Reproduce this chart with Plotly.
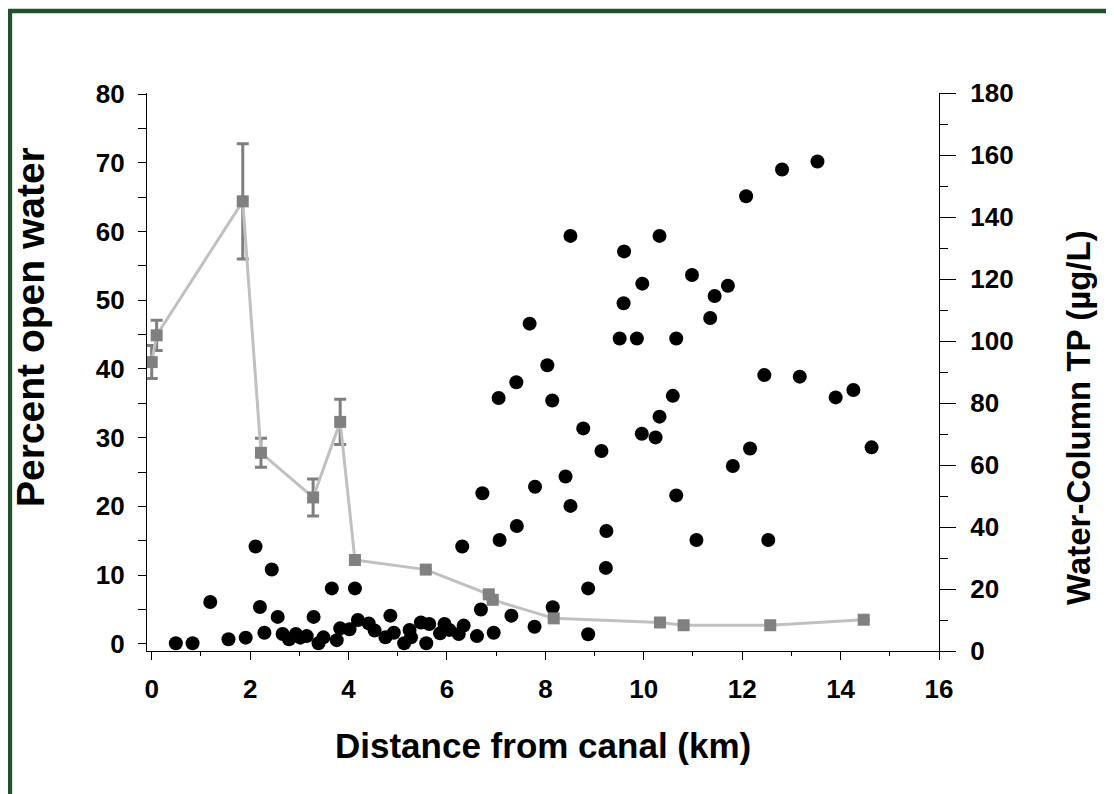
import plotly.graph_objects as go

# Percent open water (left axis), mean +/- error
open_x = [0.0, 0.10, 1.85, 2.22, 3.28, 3.83, 4.13, 5.57, 6.85, 6.93, 8.17, 10.33, 10.81, 12.57, 14.47]
open_y = [41.0, 44.9, 64.4, 27.8, 21.3, 32.3, 12.2, 10.8, 7.2, 6.4, 3.7, 3.1, 2.7, 2.7, 3.5]
open_err = [2.4, 2.2, 8.4, 2.1, 2.7, 3.3, None, None, None, None, None, None, None, None, None]

# Water-column TP (right axis)
tp_x = [0.49, 0.83, 1.19, 1.56, 1.91, 2.11, 2.20, 2.29, 2.44, 2.56, 2.66, 2.79, 2.93, 3.02, 3.15,
        3.29, 3.39, 3.49, 3.66, 3.76, 3.83, 4.02, 4.13, 4.19, 4.41, 4.53, 4.75, 4.85, 4.92, 5.13,
        5.24, 5.27, 5.47, 5.64, 5.58, 5.86, 5.95, 6.05, 6.24, 6.34, 6.31, 6.61, 6.69, 6.95, 7.07,
        7.31, 7.42, 7.78, 8.15,
        8.51, 9.60, 10.32, 9.97, 9.59, 7.68, 9.51, 9.86, 10.66, 8.04, 7.41, 7.05, 8.14, 10.59,
        10.32, 8.77, 9.96, 10.24, 9.14, 10.66, 6.72, 7.79, 8.41, 8.51, 9.24, 9.23, 8.87, 8.87,
        13.53, 12.81, 12.08, 10.98, 11.71, 11.44, 11.35, 12.45, 13.17, 14.26, 13.90, 12.16,
        11.81, 14.63, 11.07, 12.53]
tp_y = [2.5, 2.5, 15.8, 3.8, 4.3, 33.7, 14.2, 5.9, 26.3, 11.0, 5.5, 3.8, 5.5, 4.3, 4.8,
        11.0, 2.5, 4.4, 20.2, 3.5, 7.3, 7.0, 20.2, 10.0, 8.9, 6.6, 4.4, 11.4, 5.9, 2.5,
        6.8, 4.4, 9.2, 8.7, 2.5, 5.7, 8.7, 6.8, 5.5, 8.2, 33.7, 4.8, 13.4, 5.9, 35.8,
        11.4, 40.3, 7.8, 14.1,
        133.9, 128.9, 133.9, 118.5, 112.2, 105.6, 100.8, 100.8, 100.8, 92.2, 86.7, 81.6, 80.8, 82.3,
        75.6, 71.8, 70.1, 68.9, 64.5, 50.2, 50.9, 53.0, 56.3, 46.8, 38.7, 26.8, 20.2, 5.4,
        157.9, 155.3, 146.7, 121.3, 117.8, 114.5, 107.4, 89.0, 88.5, 84.2, 81.8, 65.3,
        59.7, 65.7, 35.8, 35.8]

x_title = "Distance from canal (km)"
y_left_title = "Percent open water"
y_right_title = "Water-Column TP (µg/L)"

FONT = "Liberation Sans, Arial, sans-serif"

fig = go.Figure()

fig.add_trace(go.Scatter(
    x=tp_x, y=tp_y, mode="markers", yaxis="y",
    marker=dict(symbol="circle", size=14, color="black"),
    showlegend=False, hoverinfo="x+y"))

fig.add_trace(go.Scatter(
    x=open_x, y=open_y, mode="lines+markers", yaxis="y2",
    line=dict(color="#c0c0c0", width=3),
    marker=dict(symbol="square", size=12, color="#808080"),
    error_y=dict(type="data", array=open_err, visible=True, color="#7f7f7f",
                 thickness=3, width=6),
    showlegend=False, hoverinfo="x+y"))

OFF = 8  # page offset of the figure in the screenshot
W, H = 1114, 794
L, T = 147 - OFF, 93 - OFF
R = W - (939 - OFF)
B = H - (651 - OFF)
pw, ph = W - L - R, H - T - B

def px_x(p):
    return (p - OFF - L) / pw

def px_y(p):
    return (H - B - (p - OFF)) / ph

tickfont = dict(family=FONT, size=26, color="black", weight="bold")

fig.update_layout(
    width=W, height=H,
    margin=dict(l=L, r=R, t=T, b=B, autoexpand=False),
    paper_bgcolor="white", plot_bgcolor="white",
    xaxis=dict(range=[-0.096, 16.0], showgrid=False, zeroline=False,
               showline=True, linecolor="black", linewidth=1.3,
               ticks="outside", ticklen=8, tickwidth=1.3, tickcolor="black",
               dtick=2, tick0=0, tickfont=tickfont, ticklabelstandoff=7,
               minor=dict(dtick=1, tick0=0, ticks="outside", ticklen=4,
                          tickwidth=1.3, tickcolor="black")),
    yaxis=dict(range=[0, 180], side="right", showgrid=False, zeroline=False,
               showline=True, linecolor="black", linewidth=1.3,
               ticks="outside", ticklen=16, tickwidth=1.3, tickcolor="black",
               dtick=20, tick0=0, tickfont=tickfont, ticklabelstandoff=9,
               minor=dict(dtick=10, tick0=0, ticks="outside", ticklen=8,
                          tickwidth=1.3, tickcolor="black")),
    yaxis2=dict(range=[-1.05, 80.17], side="left", overlaying="y", showgrid=False,
                zeroline=False, showline=True, linecolor="black", linewidth=1.3,
                ticks="outside", ticklen=8, tickwidth=1.3, tickcolor="black",
                dtick=10, tick0=0, tickfont=tickfont, ticklabelstandoff=8,
                minor=dict(dtick=5, tick0=0, ticks="outside", ticklen=8,
                           tickwidth=1.3, tickcolor="black")),
    annotations=[
        dict(text=x_title, xref="paper", yref="paper", x=px_x(543), y=px_y(745),
             xanchor="center", yanchor="middle", showarrow=False,
             font=dict(family=FONT, size=35, color="black", weight="bold")),
        dict(text=y_left_title, xref="paper", yref="paper", x=px_x(30), y=px_y(327),
             xanchor="center", yanchor="middle", showarrow=False, textangle=-90,
             font=dict(family=FONT, size=39, color="black", weight="bold")),
        dict(text=y_right_title, xref="paper", yref="paper", x=px_x(1078), y=px_y(418),
             xanchor="center", yanchor="middle", showarrow=False, textangle=-90,
             font=dict(family=FONT, size=33, color="black", weight="bold")),
    ],
    shapes=[
        dict(type="rect", xref="paper", yref="paper",
             x0=px_x(10), x1=px_x(1135), y0=px_y(11), y1=px_y(815),
             line=dict(color="#22502a", width=4.3), fillcolor="rgba(0,0,0,0)",
             layer="below"),
    ],
)

fig.write_html("out.html")
